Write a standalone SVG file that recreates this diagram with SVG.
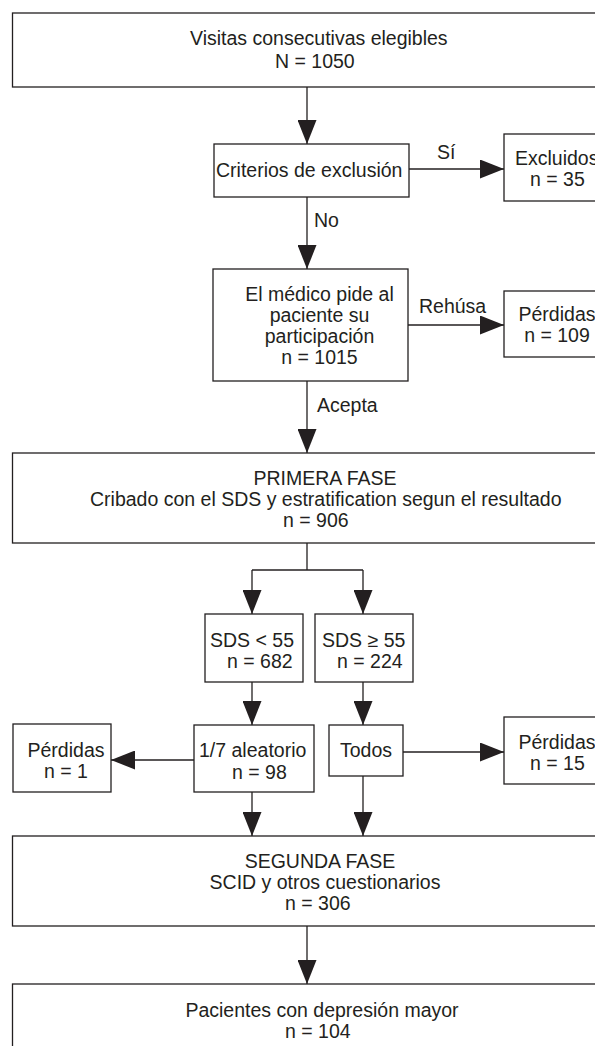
<svg xmlns="http://www.w3.org/2000/svg" width="595" height="1046" viewBox="0 0 595 1046">
<style>
.box{fill:#fff;stroke:#231f20;stroke-width:1.3}
.ln{fill:none;stroke:#231f20;stroke-width:1.3}
text{font-family:"Liberation Sans",Arial,sans-serif;font-size:19.5px;fill:#231f20}
.m{text-anchor:middle}
</style>
<defs>
<marker id="ah" markerUnits="userSpaceOnUse" markerWidth="24" markerHeight="19" refX="24" refY="9.5" orient="auto">
<path d="M0,0 L24,9.5 L0,19 z" fill="#231f20"/>
</marker>
</defs>
<rect width="595" height="1046" fill="#fff"/>
<g id="connectors">
<line class="ln" x1="307" y1="87" x2="307" y2="144" marker-end="url(#ah)"/>
<line class="ln" x1="409" y1="169" x2="504" y2="169" marker-end="url(#ah)"/>
<line class="ln" x1="307" y1="197" x2="307" y2="269" marker-end="url(#ah)"/>
<line class="ln" x1="408" y1="325" x2="504" y2="325" marker-end="url(#ah)"/>
<line class="ln" x1="307" y1="381" x2="307" y2="453" marker-end="url(#ah)"/>
<polyline class="ln" points="307,543 307,570"/>
<polyline class="ln" points="252,570 363,570"/>
<line class="ln" x1="252" y1="570" x2="252" y2="614" marker-end="url(#ah)"/>
<line class="ln" x1="363" y1="570" x2="363" y2="614" marker-end="url(#ah)"/>
<line class="ln" x1="252" y1="682" x2="252" y2="725" marker-end="url(#ah)"/>
<line class="ln" x1="363" y1="682" x2="363" y2="725" marker-end="url(#ah)"/>
<line class="ln" x1="194" y1="760" x2="111" y2="760" marker-end="url(#ah)"/>
<line class="ln" x1="403" y1="752" x2="504" y2="752" marker-end="url(#ah)"/>
<line class="ln" x1="252" y1="792" x2="252" y2="836" marker-end="url(#ah)"/>
<line class="ln" x1="363" y1="776" x2="363" y2="836" marker-end="url(#ah)"/>
<line class="ln" x1="307" y1="926" x2="307" y2="984" marker-end="url(#ah)"/>
<text x="437" y="159">Sí</text>
<text x="314" y="227">No</text>
<text x="419" y="313">Rehúsa</text>
<text x="317" y="412">Acepta</text>
</g>
<g id="n-visitas">
<rect class="box" x="12.5" y="13" width="640" height="74"/>
<text x="190" y="45">Visitas consecutivas elegibles</text>
<text x="275" y="68">N = 1050</text>
</g>
<g id="n-criterios">
<rect class="box" x="214" y="144" width="195" height="53"/>
<text x="216" y="177">Criterios de exclusión</text>
</g>
<g id="n-excluidos">
<rect class="box" x="504" y="134" width="110" height="67"/>
<text x="515" y="165">Excluidos</text>
<text x="530" y="186">n = 35</text>
</g>
<g id="n-medico">
<rect class="box" x="213" y="269" width="195" height="112"/>
<text class="m" x="319.5" y="301">El médico pide al</text>
<text class="m" x="319.5" y="322">paciente su</text>
<text class="m" x="319.5" y="343">participación</text>
<text class="m" x="319.5" y="364">n = 1015</text>
</g>
<g id="n-perdidas1">
<rect class="box" x="504" y="291" width="110" height="66"/>
<text class="m" x="557" y="321">Pérdidas</text>
<text class="m" x="557" y="342">n = 109</text>
</g>
<g id="n-primera">
<rect class="box" x="12.5" y="453" width="640" height="90"/>
<text class="m" x="325" y="485">PRIMERA FASE</text>
<text x="90" y="506">Cribado con el SDS y estratification segun el resultado</text>
<text x="283" y="527">n = 906</text>
</g>
<g id="n-sds-lt">
<rect class="box" x="205" y="614" width="98" height="68"/>
<text x="210" y="647">SDS &lt; 55</text>
<text x="227" y="668">n = 682</text>
</g>
<g id="n-sds-ge">
<rect class="box" x="315" y="614" width="98" height="68"/>
<text x="322" y="647">SDS ≥ 55</text>
<text x="337" y="668">n = 224</text>
</g>
<g id="n-perdidas2">
<rect class="box" x="13" y="724" width="98" height="68"/>
<text class="m" x="66" y="757">Pérdidas</text>
<text class="m" x="66" y="778">n = 1</text>
</g>
<g id="n-aleatorio">
<rect class="box" x="194" y="725" width="120" height="67"/>
<text x="199" y="757">1/7 aleatorio</text>
<text x="232" y="779">n = 98</text>
</g>
<g id="n-todos">
<rect class="box" x="329" y="725" width="74" height="51"/>
<text class="m" x="366" y="757">Todos</text>
</g>
<g id="n-perdidas3">
<rect class="box" x="504" y="717" width="110" height="67"/>
<text class="m" x="557" y="749">Pérdidas</text>
<text x="530" y="770">n = 15</text>
</g>
<g id="n-segunda">
<rect class="box" x="12.5" y="836" width="640" height="90"/>
<text class="m" x="320" y="868">SEGUNDA FASE</text>
<text class="m" x="325" y="889">SCID y otros cuestionarios</text>
<text x="285" y="910">n = 306</text>
</g>
<g id="n-pacientes">
<rect class="box" x="12.5" y="984" width="640" height="90"/>
<text class="m" x="322" y="1017">Pacientes con depresión mayor</text>
<text x="285" y="1038">n = 104</text>
</g>
</svg>
